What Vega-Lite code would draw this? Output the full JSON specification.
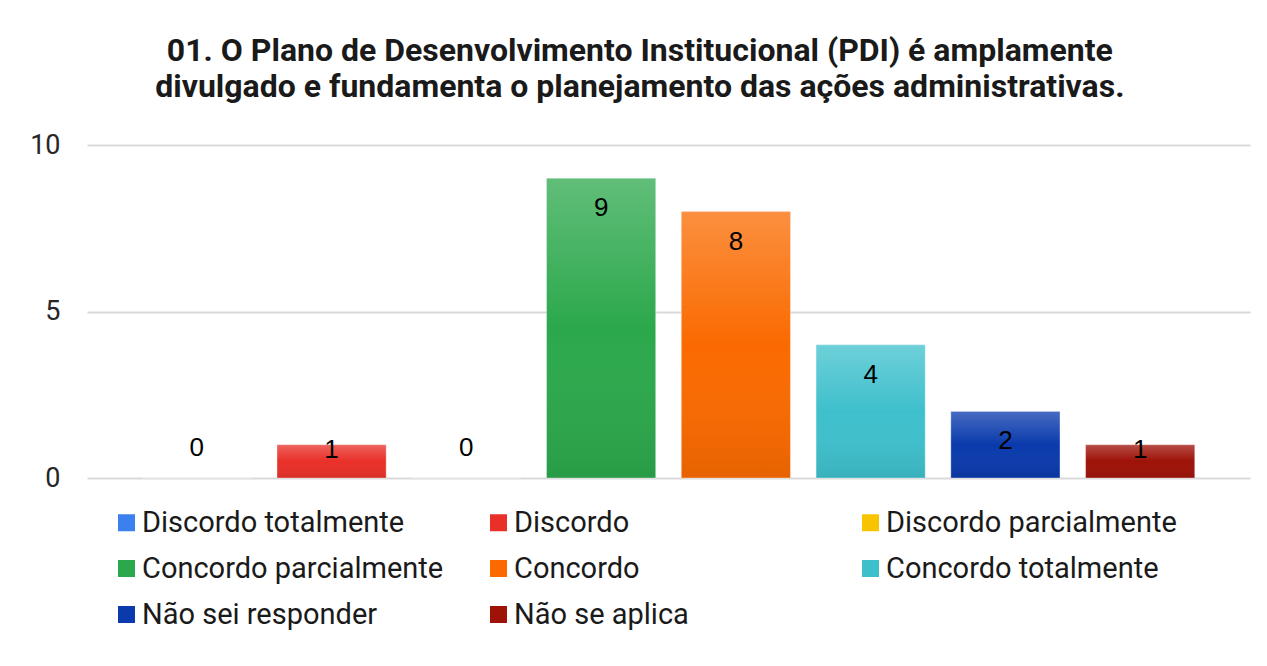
{
  "$schema": "https://vega.github.io/schema/vega-lite/v6.json",
  "width": 1163,
  "height": 333,
  "autosize": "none",
  "padding": {"left": 87, "top": 145, "right": 17, "bottom": 188},
  "background": "#ffffff",
  "title": {
    "text": ["01. O Plano de Desenvolvimento Institucional (PDI) é amplamente", "divulgado e fundamenta o planejamento das ações administrativas."],
    "font": "Roboto",
    "fontSize": 32,
    "fontWeight": "bold",
    "color": "#1a1a1a",
    "lineHeight": 36,
    "anchor": "middle",
    "frame": "bounds",
    "offset": 27
  },
  "data": {
    "values": [
      {"resposta": "Discordo totalmente", "n": 0},
      {"resposta": "Discordo", "n": 1},
      {"resposta": "Discordo parcialmente", "n": 0},
      {"resposta": "Concordo parcialmente", "n": 9},
      {"resposta": "Concordo", "n": 8},
      {"resposta": "Concordo totalmente", "n": 4},
      {"resposta": "Não sei responder", "n": 2},
      {"resposta": "Não se aplica", "n": 1}
    ]
  },
  "encoding": {
    "x": {
      "field": "resposta",
      "type": "nominal",
      "sort": null,
      "axis": null,
      "scale": {"paddingInner": 0.19, "paddingOuter": 0.41}
    },
    "y": {
      "field": "n",
      "type": "quantitative",
      "scale": {"domain": [0, 10]},
      "axis": {
        "title": null,
        "values": [0, 5, 10],
        "ticks": false,
        "domain": false,
        "grid": true,
        "gridColor": "#d9d9d9",
        "gridWidth": 2,
        "labelFont": "Roboto",
        "labelFontSize": 27,
        "labelColor": "#262626",
        "labelPadding": 27
      }
    }
  },
  "layer": [
    {
      "mark": {"type": "bar"},
      "encoding": {
        "color": {
          "field": "resposta",
          "type": "nominal",
          "sort": null,
          "scale": {
            "domain": ["Discordo totalmente", "Discordo", "Discordo parcialmente", "Concordo parcialmente", "Concordo", "Concordo totalmente", "Não sei responder", "Não se aplica"],
            "range": ["#3c80f0", "#e83028", "#f8c400", "#2ca84c", "#fa6a00", "#3ec0cc", "#0a3aac", "#9e1208"]
          },
          "legend": {
            "title": null,
            "orient": "none",
            "legendX": 25,
            "legendY": 363,
            "direction": "horizontal",
            "columns": 3,
            "gridAlign": "all",
            "columnPadding": 40,
            "rowPadding": 16,
            "symbolType": "square",
            "symbolSize": 289,
            "symbolStrokeWidth": 0,
            "labelFont": "Roboto",
            "labelFontSize": 29,
            "labelColor": "#1a1a1a",
            "labelOffset": 1,
            "labelLimit": 400
          }
        }
      }
    },
    {
      "mark": {
        "type": "bar",
        "stroke": "#ffffff",
        "strokeOpacity": 0.35,
        "strokeWidth": 1,
        "color": {
          "gradient": "linear",
          "x1": 0, "y1": 0, "x2": 0, "y2": 1,
          "stops": [
            {"offset": 0, "color": "rgba(255,255,255,0.25)"},
            {"offset": 0.5, "color": "rgba(255,255,255,0)"},
            {"offset": 1, "color": "rgba(0,0,0,0.08)"}
          ]
        }
      }
    },
    {
      "transform": [{"filter": "datum.n >= 2"}],
      "mark": {"type": "text", "dy": 30, "baseline": "middle", "font": "Liberation Sans", "fontSize": 26, "color": "#000000"},
      "encoding": {"text": {"field": "n", "type": "quantitative"}}
    },
    {
      "transform": [{"filter": "datum.n == 1"}],
      "mark": {"type": "text", "dy": 5, "baseline": "middle", "font": "Liberation Sans", "fontSize": 26, "color": "#000000"},
      "encoding": {"text": {"field": "n", "type": "quantitative"}}
    },
    {
      "transform": [{"filter": "datum.n == 0"}],
      "mark": {"type": "text", "dy": -30, "baseline": "middle", "font": "Liberation Sans", "fontSize": 26, "color": "#000000"},
      "encoding": {"text": {"field": "n", "type": "quantitative"}}
    }
  ],
  "config": {"view": {"stroke": null}}
}
